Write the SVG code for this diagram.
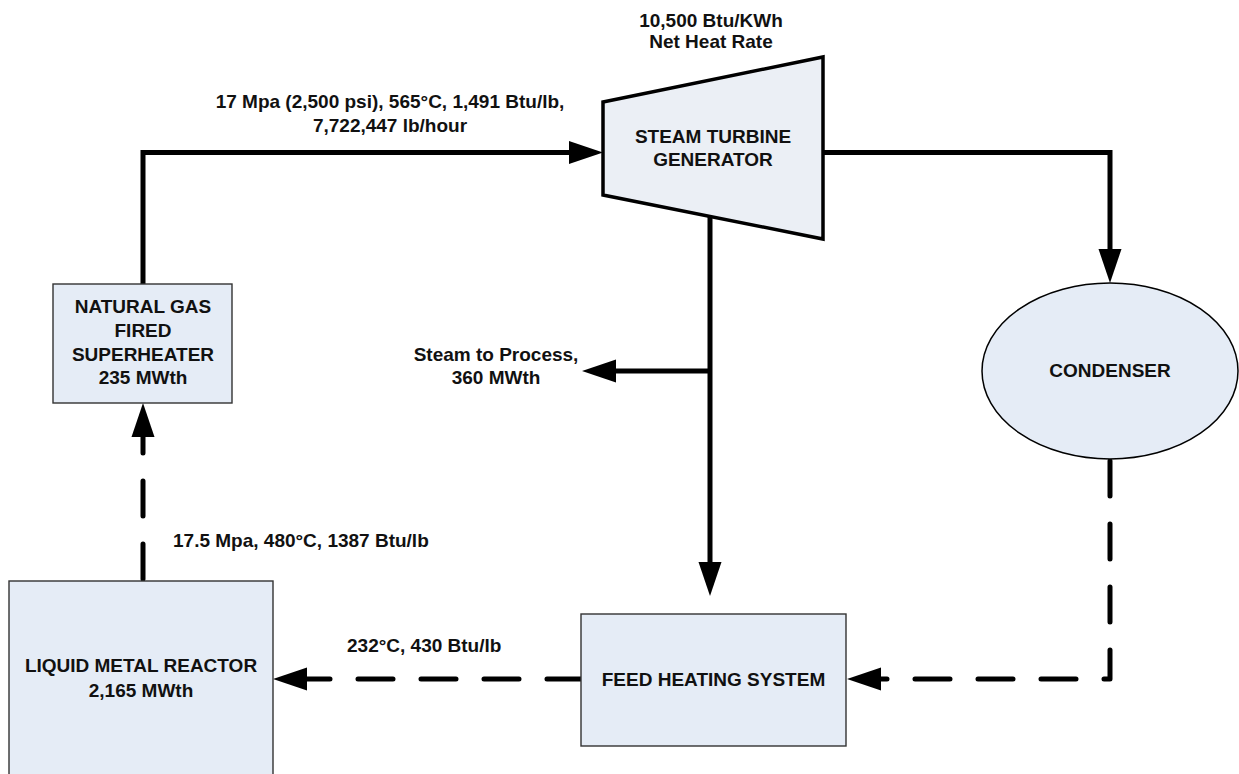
<svg xmlns="http://www.w3.org/2000/svg" width="1239" height="774" viewBox="0 0 1239 774">
  <style>
    .lbl { font-family: "Liberation Sans", Arial, sans-serif; font-weight: bold; font-size: 19px; fill: #111; }
    .mid { text-anchor: middle; }
    .box { fill: #E5ECF6; stroke: #333; stroke-width: 1.4; }
    .solid { fill: none; stroke: #000; stroke-width: 5; stroke-linejoin: miter; }
    .dash { fill: none; stroke: #000; stroke-width: 5; stroke-linecap: round; stroke-linejoin: round; stroke-dasharray: 35 28; }
  </style>
  <defs>
    <marker id="arrow" markerUnits="userSpaceOnUse" markerWidth="36" markerHeight="24" refX="0" refY="11.5" orient="auto" overflow="visible">
      <path d="M0,0 L34,11.5 L0,23 z" fill="#000"/>
    </marker>
  </defs>
  <rect width="1239" height="774" fill="#fff"/>

  <g id="connectors">
    <path class="solid" d="M143,284 L143,152.5 L569,152.5" marker-end="url(#arrow)"/>
    <path class="solid" d="M823,152.5 L1110,152.5 L1110,249" marker-end="url(#arrow)"/>
    <path class="solid" d="M710,215 L710,562" marker-end="url(#arrow)"/>
    <path class="solid" d="M710,371 L616,371" marker-end="url(#arrow)"/>
    <path class="dash" d="M143,579 L143,437" marker-end="url(#arrow)"/>
    <path class="dash" d="M582,679 L307,679" marker-end="url(#arrow)"/>
    <path class="dash" d="M1110,461 L1110,679 L881,679" marker-end="url(#arrow)"/>
    <text class="lbl mid" x="390" y="108">17 Mpa (2,500 psi), 565°C, 1,491 Btu/lb,</text>
    <text class="lbl mid" x="390" y="132">7,722,447 lb/hour</text>
    <text class="lbl mid" x="496" y="361">Steam to Process,</text>
    <text class="lbl mid" x="496" y="384">360 MWth</text>
    <text class="lbl" x="173" y="547">17.5 Mpa, 480°C, 1387 Btu/lb</text>
    <text class="lbl" x="347" y="652">232°C, 430 Btu/lb</text>
  </g>

  <g id="turbine">
    <text class="lbl mid" x="711" y="27">10,500 Btu/KWh</text>
    <text class="lbl mid" x="711" y="48">Net Heat Rate</text>
    <polygon points="603,102 823,57 823,239 603,195" fill="#EBEFF5" stroke="#000" stroke-width="3.5" stroke-linejoin="miter"/>
    <text class="lbl mid" x="713" y="143">STEAM TURBINE</text>
    <text class="lbl mid" x="713" y="166">GENERATOR</text>
  </g>

  <g id="condenser">
    <ellipse cx="1110" cy="371" rx="128" ry="88" fill="#E5ECF6" stroke="#000" stroke-width="1.5"/>
    <text class="lbl mid" x="1110" y="377">CONDENSER</text>
  </g>

  <g id="superheater">
    <rect class="box" x="53" y="284" width="179" height="119"/>
    <text class="lbl mid" x="143" y="313">NATURAL GAS</text>
    <text class="lbl mid" x="143" y="337">FIRED</text>
    <text class="lbl mid" x="143" y="361">SUPERHEATER</text>
    <text class="lbl mid" x="143" y="384">235 MWth</text>
  </g>

  <g id="reactor">
    <rect class="box" x="9" y="581" width="264" height="210"/>
    <text class="lbl mid" x="141" y="672">LIQUID METAL REACTOR</text>
    <text class="lbl mid" x="141" y="697">2,165 MWth</text>
  </g>

  <g id="feedheating">
    <rect class="box" x="581" y="614" width="265" height="132"/>
    <text class="lbl mid" x="713.5" y="686">FEED HEATING SYSTEM</text>
  </g>
</svg>
